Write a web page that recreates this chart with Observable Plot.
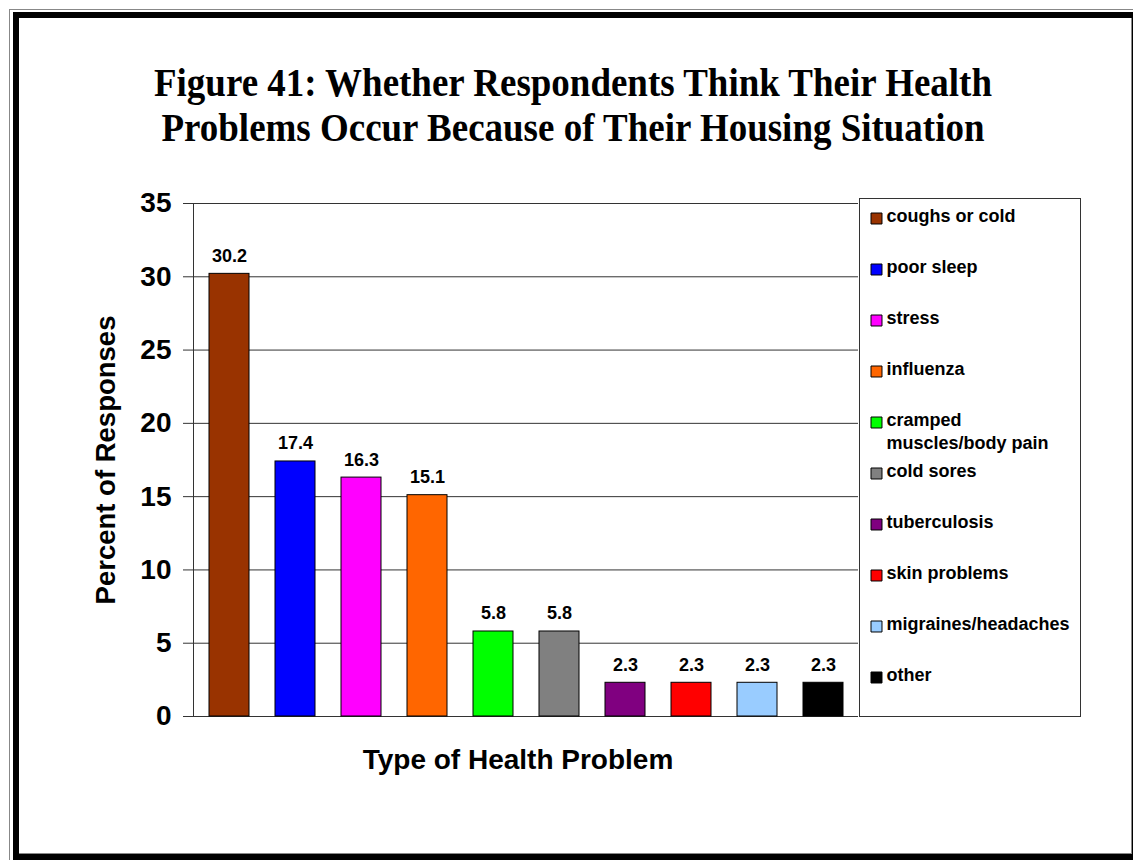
<!DOCTYPE html>
<html>
<head>
<meta charset="utf-8">
<script src="https://cdn.jsdelivr.net/npm/d3@7"></script>
<script src="https://cdn.jsdelivr.net/npm/@observablehq/plot@0.6"></script>
<style>
  html, body { margin: 0; padding: 0; background: #fff; }
  #page { position: relative; width: 1133px; height: 860px; overflow: hidden; background: #fff; }
  .abs { position: absolute; }
  #frameOuter { left: 9px; top: 9px; width: 1140px; height: 860px; border: 1px solid #888; box-sizing: border-box; }
  #frameBlack { left: 13px; top: 12px; width: 1125px; height: 848px; border: 6px solid #000; box-sizing: border-box; }
  #frameInner { left: 19px; top: 18px; width: 1113px; height: 836px; border-right: 1px solid #888; border-bottom: 1px solid #888; box-sizing: border-box; }
  #legend { left: 859px; top: 198px; width: 222px; height: 519px; border: 1px solid #333; box-sizing: border-box; background: #fff; }
</style>
</head>
<body>
<div id="page">
  <div id="frameOuter" class="abs"></div>
  <div id="frameBlack" class="abs"></div>
  <div id="frameInner" class="abs"></div>
  <div id="chart" class="abs" style="left:0;top:0;"></div>
  <div id="legend" class="abs"></div>
  <svg id="title" class="abs" style="left:0;top:0;" width="1133" height="180"></svg>
</div>
<script>
// ---- data ----
const titleLines = [
  "Figure 41: Whether Respondents Think Their Health",
  "Problems Occur Because of Their Housing Situation"
];
const categories = [
  "coughs or cold", "poor sleep", "stress", "influenza",
  "cramped muscles/body pain", "cold sores", "tuberculosis",
  "skin problems", "migraines/headaches", "other"
];
const legendLabels = [
  "coughs or cold", "poor sleep", "stress", "influenza",
  "cramped\nmuscles/body pain", "cold sores", "tuberculosis",
  "skin problems", "migraines/headaches", "other"
];
const values = [30.2, 17.4, 16.3, 15.1, 5.8, 5.8, 2.3, 2.3, 2.3, 2.3];
const colors = [
  "#993300", "#0000FF", "#FF00FF", "#FF6600", "#00FF00",
  "#808080", "#800080", "#FF0000", "#99CCFF", "#000000"
];
const yTicks = [0, 5, 10, 15, 20, 25, 30, 35];
const yLabel = "Percent of Responses";
const xLabel = "Type of Health Problem";

const data = categories.map((c, i) => ({category: c, value: values[i]}));
const legendData = categories.map((c, i) => ({category: c, label: legendLabels[i]}));

// ---- title ----
const tsvg = d3.select("#title");
const titleBase = [96, 141];
const titleLen = [838, 823];
titleLines.forEach((t, i) => {
  tsvg.append("text")
    .attr("x", 573).attr("y", titleBase[i])
    .attr("text-anchor", "middle")
    .attr("font-family", "'Liberation Serif', 'Times New Roman', serif")
    .attr("font-weight", "bold")
    .attr("font-size", 41)
    .attr("textLength", titleLen[i])
    .attr("lengthAdjust", "spacingAndGlyphs")
    .text(t);
});

// ---- main chart ----
const chart = Plot.plot({
  width: 1133,
  height: 860,
  marginLeft: 193,
  marginRight: 275,
  marginTop: 203,
  marginBottom: 144,
  style: {fontFamily: "'Liberation Sans', Arial, sans-serif", fontWeight: "bold", fontSize: "28px", background: "transparent", color: "#000"},
  x: {domain: categories, paddingInner: 0.4, paddingOuter: 0.19, axis: null},
  y: {domain: [0, 35], ticks: yTicks},
  color: {domain: categories, range: colors},
  marks: [
    Plot.gridY(yTicks, {stroke: "#333", strokeOpacity: 1}),
    Plot.frame({anchor: "left", stroke: "#333"}),
    Plot.axisY(yTicks, {tickSize: 10, tickPadding: 12, fontSize: 28, fontWeight: "bold", label: null, stroke: "#333"}),
    Plot.barY(data, {x: "category", y: "value", fill: "category", stroke: "#000", strokeWidth: 1}),
    Plot.text(data, {x: "category", y: "value", text: d => d.value.toFixed(1), lineAnchor: "bottom", dy: -12, fontSize: 18, fontWeight: "bold", fill: "#000"}),
    Plot.text([xLabel], {frameAnchor: "bottom", textAnchor: "middle", lineAnchor: "middle", dx: -8, dy: 44, fontSize: 28, fontWeight: "bold", fill: "#000"}),
    Plot.text([yLabel], {frameAnchor: "left", textAnchor: "middle", lineAnchor: "middle", rotate: -90, dx: -87, fontSize: 27.5, fontWeight: "bold", fill: "#000"})
  ]
});
document.getElementById("chart").appendChild(chart);

// ---- legend ----
const legend = Plot.plot({
  width: 220,
  height: 517,
  margin: 0,
  marginTop: 16,
  marginBottom: 36.6,
  style: {fontFamily: "'Liberation Sans', Arial, sans-serif", fontWeight: "bold", background: "transparent", color: "#000"},
  y: {type: "point", domain: categories, axis: null, padding: 0},
  color: {domain: categories, range: colors},
  marks: [
    Plot.dot(legendData, {y: "category", frameAnchor: "left", dx: 16, symbol: "square", r: 6.2, fill: "category", stroke: "#000", strokeWidth: 1}),
    Plot.text(legendData, {y: "category", text: "label", frameAnchor: "left", dx: 26, textAnchor: "start", lineAnchor: "top", dy: -12, lineHeight: 1.25, fontSize: 18, fontWeight: "bold", fill: "#000"})
  ]
});
document.getElementById("legend").appendChild(legend);
</script>
</body>
</html>
